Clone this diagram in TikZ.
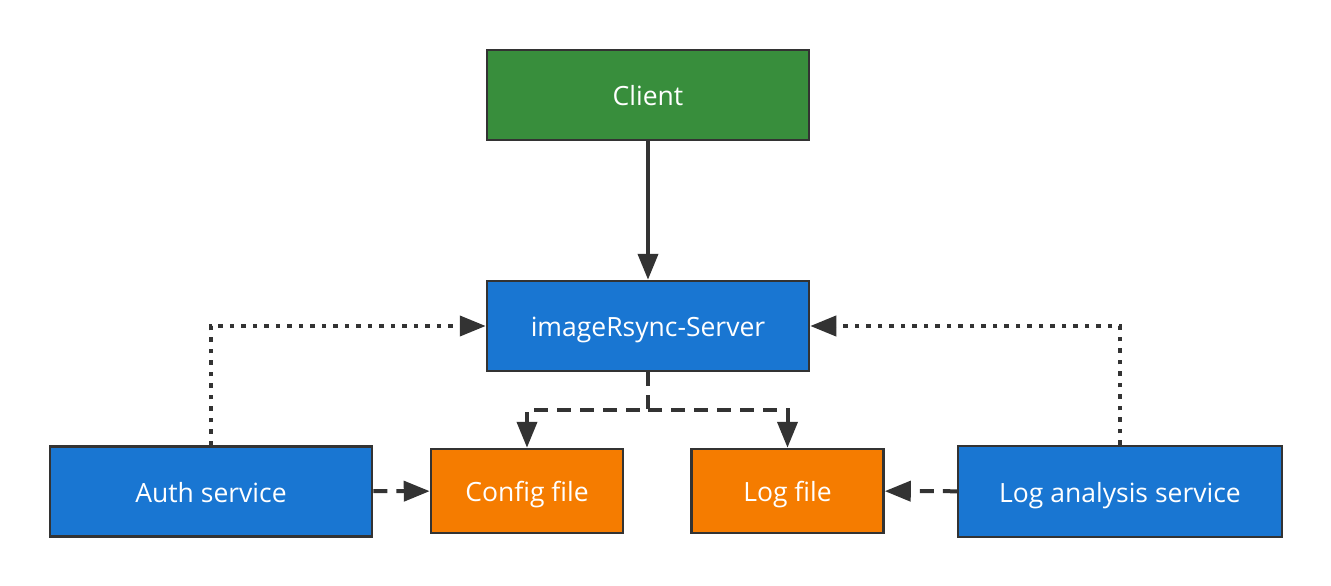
\documentclass[tikz,border=0pt]{standalone}
\usepackage{fontspec}
\setmainfont{Open Sans}
\usetikzlibrary{arrows.meta}

\definecolor{clientgreen}{HTML}{388E3C}
\definecolor{serverblue}{HTML}{1976D2}
\definecolor{fileorange}{HTML}{F57C00}
\definecolor{linegray}{HTML}{333333}

\begin{document}
\begin{tikzpicture}[x=1pt, y=-1pt,
    box/.style={draw=linegray, line width=2.5pt, text=white, inner sep=0pt,
      minimum width=322pt, minimum height=90pt, text height=21pt, text depth=0pt,
      font=\fontsize{26.5}{30}\selectfont},
    filebox/.style={box, fill=fileorange, minimum width=192pt, minimum height=84pt},
    conn/.style={draw=linegray, line width=4pt,
      -{Triangle[length=26pt, width=20pt]}},
    dashconn/.style={conn, dash pattern=on 14pt off 9pt},
    dotconn/.style={conn, dash pattern=on 4.5pt off 7pt}]
    \useasboundingbox (0,0) rectangle (1331,586);

      \node[box, fill=clientgreen] (client) at (648,95) {Client};
      \node[box, fill=serverblue] (server) at (648,326) {imageRsync-Server};
      \node[box, fill=serverblue] (auth) at (211,491.5) {Auth service};
      \node[filebox] (config) at (527,491) {Config file};
      \node[filebox] (logfile) at (787.5,491) {Log file};
      \node[box, fill=serverblue, minimum width=324pt, minimum height=91pt] (logsvc) at (1120,491.5) {Log analysis service};
      \coordinate (split) at (648,410);

      \draw[conn] (client) -- (server);
      \draw[dotconn] (auth.north) |- (server.west);
      \draw[dotconn] (logsvc.north) |- (server.east);
      \draw[dashconn] (server.south) -- (split) -| (config.north);
      \draw[dashconn] (split) -| (logfile.north);
      \draw[dashconn] (auth) -- (config);
      \draw[dashconn] (logsvc) -- (logfile);

    \end{tikzpicture}
\end{document}
